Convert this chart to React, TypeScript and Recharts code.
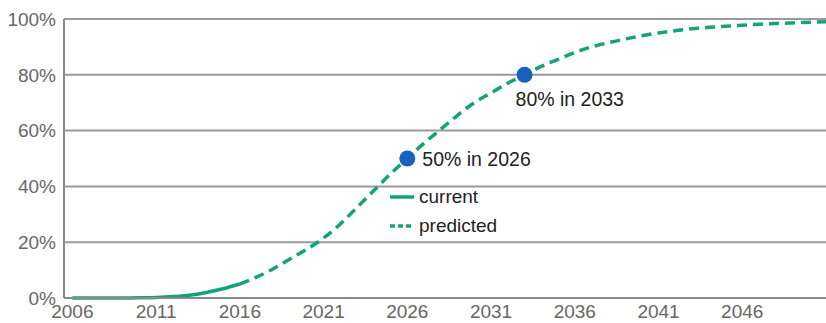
import {
  ComposedChart,
  Line,
  XAxis,
  YAxis,
  CartesianGrid,
  ReferenceDot,
} from 'recharts';

const GREEN = '#12a37a';
const BLUE = '#1762bd';
const FONT = '"Liberation Sans", Arial, sans-serif';

const years = [
  2006, 2007, 2008, 2009, 2010, 2011, 2012, 2013, 2014, 2015, 2016, 2017, 2018, 2019, 2020,
  2021, 2022, 2023, 2024, 2025, 2026, 2027, 2028, 2029, 2030, 2031, 2032, 2033, 2034, 2035,
  2036, 2037, 2038, 2039, 2040, 2041, 2042, 2043, 2044, 2045, 2046, 2047, 2048, 2049, 2050, 2051,
];
const currentShare = [0, 0, 0, 0, 0.05, 0.2, 0.5, 1, 2, 3.3, 5];
const predictedShare = [
  5, 7.5, 10.5, 14, 17.5, 21.5, 26.5, 32.5, 38.5, 44.5, 50, 55.5, 60.5, 65.5, 70, 73.5, 77,
  80, 83, 85.5, 88, 90, 91.5, 92.8, 94, 95, 95.8, 96.5, 97, 97.4, 97.8, 98.1, 98.4, 98.6,
  98.8, 99,
];
const predictedStart = 2016;

const milestoneYears = [2026, 2033];
const milestoneShares = [50, 80];
const milestoneLabels = ['50% in 2026', '80% in 2033'];

const legendItems = ['current', 'predicted'];

const xTicks = [2006, 2011, 2016, 2021, 2026, 2031, 2036, 2041, 2046];
const yTicks = [0, 20, 40, 60, 80, 100];

const data = years.map((year, i) => ({
  year,
  current: i < currentShare.length ? currentShare[i] : null,
  predicted: year >= predictedStart ? predictedShare[year - predictedStart] : null,
}));

function ChartLegend() {
  return (
    <div
      style={{
        position: 'absolute',
        left: 388,
        top: 182,
        fontFamily: FONT,
        fontSize: 19,
        color: '#222',
        lineHeight: '29px',
      }}
    >
      {legendItems.map((name, i) => (
        <div key={name} style={{ display: 'flex', alignItems: 'center', height: 29 }}>
          <svg width={30} height={10}>
            <line
              x1={2}
              y1={5}
              x2={26}
              y2={5}
              stroke={GREEN}
              strokeWidth={3.5}
              strokeDasharray={i === 1 ? '5 3' : undefined}
            />
          </svg>
          <span style={{ marginLeft: 1 }}>{name}</span>
        </div>
      ))}
    </div>
  );
}

function MilestoneLabel(props: any) {
  const { viewBox, index } = props;
  const cx = viewBox.x + viewBox.width / 2;
  const cy = viewBox.y + viewBox.height / 2;
  const right = index === 0;
  return (
    <text
      x={right ? cx + 15 : cx - 9}
      y={right ? cy + 7 : cy + 31}
      fontFamily={FONT}
      fontSize={19.5}
      fill="#222"
    >
      {milestoneLabels[index]}
    </text>
  );
}

export default function App() {
  return (
    <div style={{ position: 'absolute', left: 0, top: 0, width: 826, height: 323, background: '#fff' }}>
      <ComposedChart
        width={826}
        height={323}
        data={data}
        margin={{ top: 19, right: 0, bottom: 0, left: 0 }}
      >
        <CartesianGrid vertical={false} stroke="#9a9a9a" strokeWidth={2} />
        <XAxis
          dataKey="year"
          type="number"
          domain={[2005.5, 2051]}
          ticks={xTicks}
          allowDataOverflow
          height={25}
          tickSize={0}
          tickMargin={7}
          axisLine={{ stroke: '#8a8a8a', strokeWidth: 2 }}
          tick={{ fontFamily: FONT, fontSize: 19, fill: '#666' }}
        />
        <YAxis
          type="number"
          domain={[0, 100]}
          ticks={yTicks}
          width={64}
          tickSize={0}
          tickMargin={8}
          axisLine={{ stroke: '#8a8a8a', strokeWidth: 2 }}
          tickFormatter={(v) => `${v}%`}
          tick={{ fontFamily: FONT, fontSize: 19, fill: '#666' }}
        />
        <Line
          dataKey="current"
          type="monotone"
          stroke={GREEN}
          strokeWidth={3.5}
          dot={false}
          activeDot={false}
          isAnimationActive={false}
        />
        <Line
          dataKey="predicted"
          type="monotone"
          stroke={GREEN}
          strokeWidth={3.5}
          strokeDasharray="10 6"
          dot={false}
          activeDot={false}
          isAnimationActive={false}
        />
        {milestoneYears.map((yr, i) => (
          <ReferenceDot
            key={yr}
            x={yr}
            y={milestoneShares[i]}
            r={8}
            fill={BLUE}
            stroke="none"
            label={<MilestoneLabel index={i} />}
          />
        ))}
      </ComposedChart>
      <ChartLegend />
    </div>
  );
}
